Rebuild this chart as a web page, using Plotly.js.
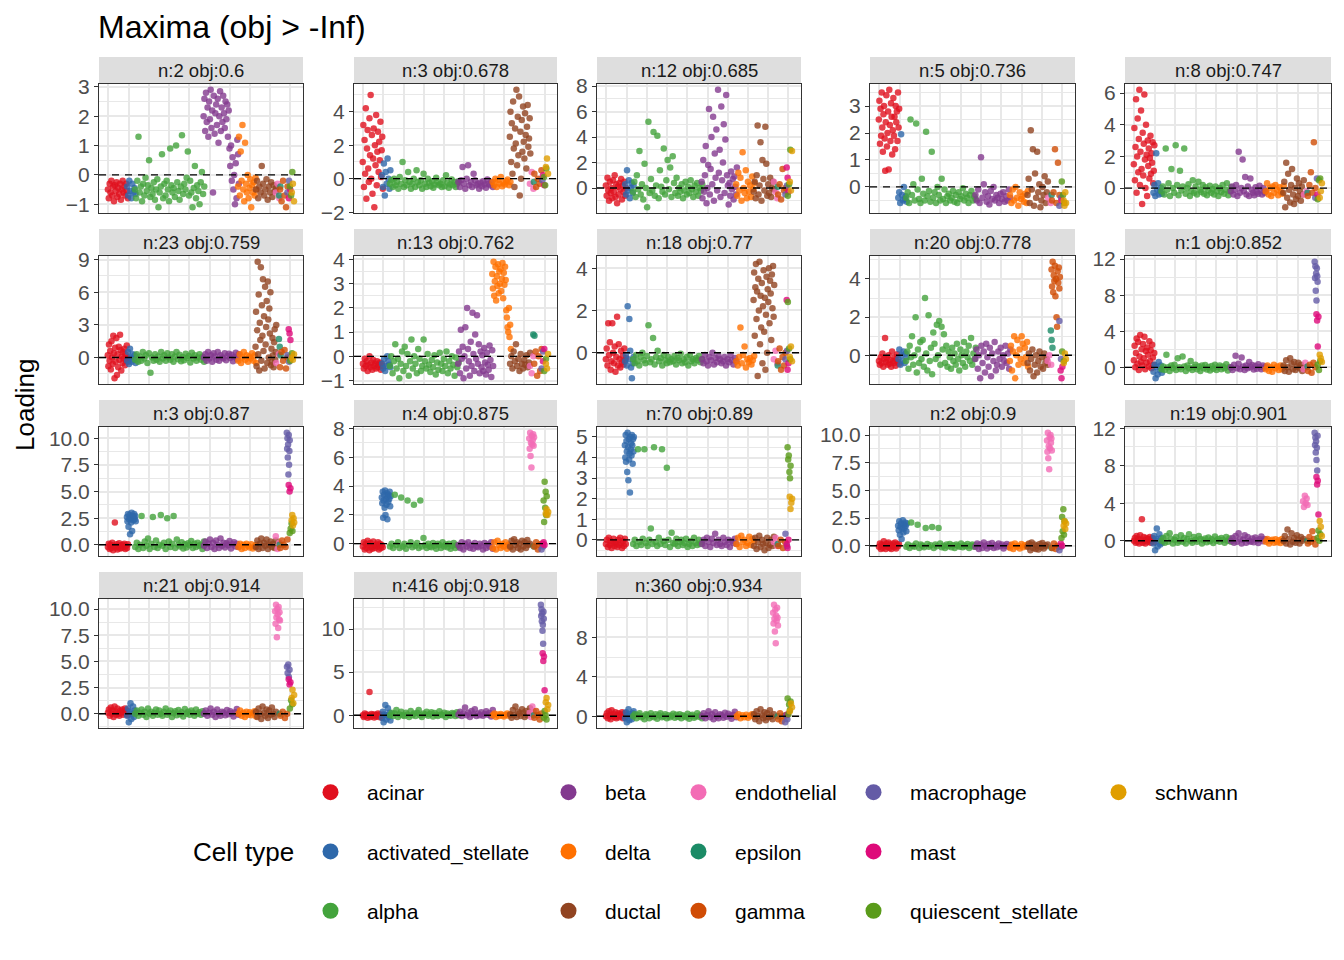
<!DOCTYPE html>
<html lang="en">
<head>
<meta charset="UTF-8">
<title>Maxima</title>
<script src="https://cdn.plot.ly/plotly-3.0.1.min.js"></script>
<style>body { margin: 0; }</style>
</head>
<body>
<div id="plot" style="width:1344px;height:960px"></div>
<script>

const cellTypes = ["acinar", "activated_stellate", "alpha", "beta", "delta", "ductal", "endothelial",
    "epsilon", "gamma", "macrophage", "mast", "quiescent_stellate", "schwann"]
const cellColors = ["#e0101e", "#2e68aa", "#43a33c", "#83398f", "#ff7000", "#914421", "#f36cb5",
    "#1b8b66", "#d04c05", "#645ba6", "#de0a7a", "#5a9b1a", "#e09e00"]
// number of cells of each type, in x order
const cellCounts = [95, 38, 340, 170, 87, 97, 18, 4, 36, 8, 5, 10, 8]

const facetLabels = ["n:2 obj:0.6", "n:3 obj:0.678", "n:12 obj:0.685", "n:5 obj:0.736", "n:8 obj:0.747",
    "n:23 obj:0.759", "n:13 obj:0.762", "n:18 obj:0.77", "n:20 obj:0.778", "n:1 obj:0.852",
    "n:3 obj:0.87", "n:4 obj:0.875", "n:70 obj:0.89", "n:2 obj:0.9", "n:19 obj:0.901",
    "n:21 obj:0.914", "n:416 obj:0.918", "n:360 obj:0.934"]

// loadings per facet, one list per cell type (same order as cellTypes)
const panel01 = [
    [-0.5,-0.8,-0.3,-0.6,-0.2,-0.7,-0.4,-0.9,-0.35,-0.55,-0.25,-0.75,-0.45,-0.65,-0.3,-0.85,-0.5,-0.2,-0.6,-0.4,-0.7,-0.3,-0.55,-0.8],
    [-0.4,-0.7,-0.2,-0.55,-0.8,-0.3,-0.6,-0.45,-0.65],
    [-0.5,-0.8,-0.2,1.3,-0.6,-0.4,-0.9,-0.3,-0.7,-0.1,-0.55,-0.35,0.5,-0.75,-0.45,-0.65,-0.25,-0.85,-0.5,-0.15,-1.1,-0.6,-0.4,0.7,-0.8,-0.3,-0.7,-0.2,-0.5,-0.9,0.9,-0.35,-0.6,-0.45,-0.75,1.0,-0.25,-0.55,-0.85,-0.4,1.35,-0.65,-0.3,-0.5,-0.1,0.8,-0.7,-0.2,-0.6,-1.1,-0.45,0.3,-0.8,-0.35,-0.55,-1.0,-0.25,0.1,-0.65,-0.4],
    [2.0,2.6,1.5,2.8,1.8,2.3,1.3,2.5,1.9,2.9,1.6,2.2,-0.6,2.7,1.4,2.1,2.4,1.7,2.6,1.1,2.0,2.85,1.5,2.3,1.8,2.7,2.1,1.6,2.5,1.9,2.4,1.3,2.2,0.9,0.3,1.0,-0.2,0.6,-0.5,0.0,-1.0,0.4,-0.8,1.2,0.7,-0.3],
    [-0.4,1.3,-0.7,0.8,-0.2,1.7,-0.5,-0.9,1.1,-0.3,-0.6,0.0,-0.8,-0.45,-0.15,-1.1,-0.35,-0.6,-0.25,-0.7,-0.1,-0.5],
    [-0.5,-0.2,-0.8,-0.4,-0.6,0.3,-0.3,-0.7,-0.5,-0.15,-0.85,-0.4,-0.6,-0.25,-0.75,-0.35,-0.55,-0.45],
    [-0.6,-0.3,-0.8], [-0.7,-0.4], [-0.5,-0.9,-0.2,-0.7,-1.1,-0.4], [-0.6,-0.2], [-0.8,-0.5],
    [-0.4,-0.7,0.1], [-0.6,-0.3,-0.9]
]
const panel02 = [
    [1.0,3.2,-0.5,2.3,0.3,4.2,-1.2,1.8,2.9,0.6,-0.2,3.6,1.4,5.0,0.0,2.6,-0.9,1.2,3.0,-1.7,2.0,0.8,3.8,-0.4,1.6,2.8,0.4,2.2,1.1,3.4,0.1,1.7,2.5,-0.6],
    [0.2,-0.5,0.9,-1.0,0.4,-0.3,1.2,0.0,-0.6,0.5],
    [-0.3,-0.1,-0.5,0.0,-0.4,-0.2,-0.6,0.1,-0.3,1.0,-0.5,-0.1,-0.4,0.4,-0.2,-0.6,-0.3,0.0,-0.5,0.5,-0.2,-0.4,-0.1,-0.6,0.3,-0.3,-0.5,0.0,-0.25,-0.45,-0.15,-0.55,-0.35,0.05,-0.2,-0.4,-0.3,-0.5,-0.1,-0.45,0.2,-0.25,-0.55,-0.35,-0.05,-0.4,-0.2,-0.5,-0.3,-0.15],
    [-0.2,-0.5,-0.1,0.7,-0.3,-0.6,0.0,0.8,-0.4,-0.2,-0.5,0.3,-0.1,-0.4,-0.3,-0.6,-0.25,-0.45,-0.15,-0.35,-0.55,-0.05,-0.3,-0.4,-0.2,-0.5],
    [-0.2,-0.4,0.0,-0.5,-0.1,-0.3,0.1,-0.45,-0.25,-0.35,-0.15,-0.05,-0.4,-0.2],
    [2.5,4.0,1.0,3.3,0.3,4.6,1.8,-0.5,3.0,2.1,5.3,0.8,3.7,1.4,4.9,-1.0,2.8,0.0,3.5,1.6,4.3,2.2,1.2,3.9,2.6,0.6,3.1,4.4,1.9,2.4,3.6,1.5],
    [-0.3,0.4,-0.6], [-0.2], [0.3,-0.5,0.0,-0.3,0.5], [-0.1], [0.2,-0.4], [0.1,-0.4,0.6], [0.7,1.2,0.3]
]
const panel03 = [
    [0.2,-0.6,0.8,-0.2,-1.0,0.5,-0.4,0.0,-0.8,0.6,-0.3,1.0,-0.7,0.3,-1.2,0.1,-0.5,0.4,-0.1,0.7,-0.9,0.2,-0.3,0.5,-0.6,0.0],
    [0.3,-0.5,1.4,-0.2,0.6,-0.8,0.0,0.4,-0.4,0.2],
    [-0.3,0.5,-0.7,1.0,-0.1,2.9,-0.5,0.3,-0.9,1.9,0.0,-1.5,5.2,-0.4,0.7,-0.2,4.4,-0.6,0.2,4.1,-0.8,1.4,0.1,-0.3,3.1,-0.5,0.6,2.2,-0.1,1.6,-0.7,2.5,0.4,-0.4,0.8,-0.6,0.0,-0.3,0.3,-0.8,-0.2,0.5,-0.5,0.1,-0.4,0.6,-0.1,-0.7,0.2,-0.3,0.4,-0.6,0.0,-0.2,0.3],
    [0.5,-0.8,2.2,-0.3,1.0,3.3,-1.2,0.0,1.8,6.2,-0.5,1.5,4.0,0.3,5.6,-1.0,2.7,0.8,4.6,-0.2,7.7,1.2,3.0,-0.7,6.4,0.6,2.0,5.0,-0.4,3.8,7.3,1.0,0.2,-1.3,0.4,-0.6,1.3,-0.1,0.7,-0.9,0.9,0.1,-0.5,1.6],
    [0.3,-0.6,1.2,-0.2,0.8,-1.0,2.8,0.0,-0.4,1.4,-0.8,0.5,-0.3,0.2,-0.7,0.9,-0.1,0.4],
    [-0.3,0.5,-0.8,1.0,4.9,-0.5,0.2,3.6,-1.0,2.2,0.7,-0.2,4.8,1.9,-0.6,0.3,-0.4,0.8,-0.7,0.0,0.5,-0.1],
    [0.5,-0.3,-0.8], [0.1], [-0.5,0.3,-0.9,1.5,-0.2,0.0], [-0.5,0.2], [1.6,0.8,-0.3], [-0.6,0.3,3.0], [0.5,-0.2,2.9]
]
const panel04 = [
    [2.5,3.2,1.6,2.9,1.9,3.5,2.2,1.3,2.7,3.0,1.8,0.6,2.4,3.4,1.5,2.0,2.8,0.65,3.6,2.3,1.7,3.1,2.6,1.2,2.1,3.3,1.9,2.6,1.4,3.0,2.4,2.8,1.7,3.5,2.2,2.9],
    [-0.4,-0.2,-0.6,1.95,-0.3,-0.5,0.0,-0.45,-0.35,-0.55],
    [-0.4,-0.2,-0.6,2.5,-0.3,0.1,-0.5,2.35,-0.1,-0.45,-0.6,0.3,-0.25,-0.5,2.05,-0.35,-0.15,-0.55,1.3,-0.4,-0.2,-0.6,0.0,-0.3,-0.5,0.3,-0.45,-0.1,-0.6,-0.35,-0.25,-0.5,-0.4,-0.15,-0.55,-0.3,-0.6,-0.2,-0.45,-0.35,-0.05,-0.5,-0.25,-0.4,-0.6,-0.3,-0.15,-0.5,-0.35,-0.45],
    [-0.3,-0.5,-0.1,-0.6,1.1,-0.4,0.1,-0.2,-0.55,-0.35,-0.65,-0.15,-0.45,0.0,-0.5,-0.3,-0.4,-0.6,-0.25,-0.45,-0.2,-0.55,-0.35,-0.5,-0.1,-0.4],
    [-0.3,-0.6,-0.1,-0.5,0.0,-0.4,-0.7,-0.2,-0.45,-0.35,-0.55,-0.25,-0.6,-0.15],
    [-0.3,0.3,-0.6,2.1,-0.1,1.4,-0.7,0.5,-0.4,1.3,-0.2,0.1,-0.75,-0.5,0.0,-0.3,0.4,-0.6,-0.2,0.2],
    [-0.4,-0.6], [-0.3], [-0.5,-0.2,1.4,-0.6,0.9,-0.3], [-0.7,-0.4], [-0.5], [0.2,-0.3,-0.6], [-0.5,-0.7,-0.2,-0.6]
]
const panel05 = [
    [1.5,3.8,0.5,2.6,5.6,-0.3,2.0,4.4,1.0,3.1,6.2,0.2,2.3,4.9,1.2,-1.0,3.5,0.8,2.8,5.9,1.8,0.0,4.0,2.1,-0.5,3.0,1.4,2.5,0.6,1.9,3.3,0.9,2.2,1.6,2.9,0.3,1.1,2.7],
    [-0.3,0.2,-0.5,2.2,-0.1,0.3,-0.4,-0.2,0.0,-0.35],
    [-0.2,0.1,-0.4,2.5,-0.1,0.3,-0.5,1.2,0.0,-0.3,2.7,0.2,-0.45,1.1,-0.15,0.1,2.5,-0.35,0.0,0.25,-0.5,-0.2,0.5,-0.3,0.1,-0.4,0.4,-0.1,-0.25,0.2,-0.35,0.05,-0.45,-0.15,0.15,-0.3,-0.05,-0.4,0.1,-0.2,-0.5,0.0,-0.25,0.2,-0.35,-0.1,0.3,-0.45,-0.2,0.05],
    [-0.2,0.1,-0.4,-0.1,0.2,-0.5,2.3,-0.3,0.0,1.8,-0.2,0.7,-0.4,0.1,-0.5,0.6,-0.1,-0.3,-0.45,0.05,-0.25,-0.35,0.15,-0.15,-0.4,0.0,-0.3,-0.2],
    [-0.2,0.3,-0.4,0.0,-0.5,0.1,-0.3,0.2,-0.1,-0.45,0.05,-0.25,-0.35,0.15],
    [-0.3,0.4,-1.2,1.6,-0.6,0.9,-0.1,-0.9,0.2,1.2,-0.4,-1.0,0.0,-0.7,0.6,-0.5,0.3,-0.2,-0.8,0.1,-0.4,0.5],
    [-0.4,-0.2], [-0.3], [-0.5,0.2,1.0,-0.3,2.9,0.0], [-0.6,0.6], [-0.4], [-0.7,0.5,0.6], [-0.6,-0.2,0.3]
]
const panel06 = [
    [0.2,-0.8,1.2,-0.3,0.6,-1.1,1.5,0.0,-0.6,2.0,0.4,-1.9,0.9,-0.4,1.8,-1.6,0.3,-0.9,1.0,-0.2,2.1,0.7,-1.2,0.1,-0.5,0.5,-0.1,0.8,-0.7,0.3,-0.3,1.1,0.0,-0.4],
    [-0.3,0.5,-0.6,0.8,0.0,-0.4,0.3,-0.2,0.2,-0.5],
    [-0.2,0.3,-0.4,0.1,-0.3,0.5,-0.1,0.2,-0.5,0.4,-1.4,0.0,-0.3,0.3,-0.2,0.1,-0.4,0.5,-0.1,0.2,-0.3,0.4,0.0,-0.2,0.3,-0.4,0.1,0.5,-0.15,0.25,-0.35,0.05,-0.25,0.35,-0.05,0.15,-0.45,0.45,-0.1,0.2,-0.3,0.0,0.3,-0.2,0.1,-0.4],
    [0.0,0.3,-0.3,0.5,-0.1,0.2,-0.4,0.4,0.1,-0.2,0.5,-0.3,0.2,0.0,-0.1,0.4,-0.25,0.15,0.35,-0.05,0.25,-0.35,0.05,0.45,-0.15,0.3],
    [-0.3,0.3,-0.5,0.0,0.5,-0.2,0.2,-0.4,0.1,-0.1,0.4,-0.3,0.2,-0.5],
    [1.0,4.2,-0.8,2.5,8.8,0.3,5.8,-1.2,3.2,1.6,8.3,-0.3,4.8,2.0,7.2,0.6,3.8,-1.0,6.5,1.2,2.8,5.2,-0.5,7.0,3.5,0.0,4.5,2.2,6.0,-0.7,0.8,-0.4,1.8,0.2,-0.9,1.4,2.6,-0.2,0.5,3.0],
    [-0.5,0.3], [1.7,1.0,0.2], [-0.9,0.5,-0.3,0.7,-1.0,0.0], [0.2,-0.4], [2.6,2.2,1.6], [-0.3,0.4], [0.0,-0.2,0.3]
]
const panel07 = [
    [-0.3,-0.5,-0.1,-0.4,-0.2,-0.6,-0.35,0.0,-0.45,-0.25,-0.55,-0.15,-0.4,-0.3,-0.5,-0.2,-0.45,-0.35,-0.25,-0.55,-0.3,-0.4],
    [-0.3,-0.5,-0.1,-0.6,-0.4,0.0,-0.2,-0.35,-0.45],
    [-0.4,0.0,-0.7,-0.2,0.5,-0.5,-0.1,-0.9,-0.3,0.2,-0.6,0.4,-0.4,0.1,-0.8,-0.2,0.7,-0.5,0.0,-0.3,-0.7,0.3,-0.1,-0.6,-0.4,0.7,-0.2,-0.5,0.1,-0.35,-0.65,-0.15,-0.45,0.05,-0.75,-0.25,-0.55,0.15,-0.3,-0.6,-0.1,-0.4,0.2,-0.7,-0.2,-0.5,0.0,-0.35,-0.8,-0.05,-0.45,-0.25],
    [-0.3,0.2,-0.7,1.1,-0.1,0.4,-0.9,0.0,1.2,-0.5,2.0,0.3,-0.2,-0.8,0.6,-0.4,1.8,0.1,-0.6,0.9,-0.1,1.7,-0.3,0.5,-0.7,0.2,-0.45,0.05,-0.6,0.35,-0.25,-0.75,0.15,-0.35,-0.55,0.45,-0.15,-0.85,0.25,-0.4],
    [3.4,2.8,3.9,2.5,3.1,3.7,2.3,3.3,2.9,3.8,2.6,3.5,3.0,3.6,2.7,3.2,3.85,2.4,3.45,2.95,3.7,3.15,1.9,1.6,1.2,1.0,2.0,0.8,1.3,0.3],
    [-0.3,0.0,-0.5,0.2,-0.2,0.5,-0.4,-0.1,-0.6,0.1,-0.3,-0.5,-0.15,-0.35,0.05,-0.45,-0.25,0.15],
    [-0.4,-0.7,0.0], [0.9,0.85], [-0.3,0.2,-0.8,0.0,-0.6,0.3], [-0.5,0.2], [-0.2,0.3], [-0.6,-0.1], [-0.3,-0.5,0.1]
]
const panel08 = [
    [-0.3,0.2,-0.6,1.4,-0.1,0.5,-0.8,-0.4,1.4,0.0,-0.5,0.3,-0.9,-0.2,1.7,-0.6,0.4,-0.3,-0.7,0.1,-0.45,-0.15,-0.55,0.2,-0.35,-0.25],
    [-0.4,-0.1,-0.6,2.2,-0.3,1.6,0.1,-0.7,-1.2,-0.5,-0.2],
    [-0.3,-0.5,-0.1,-0.4,-0.6,-0.2,0.0,-0.35,-0.5,-0.15,1.3,-0.45,-0.3,0.7,-0.55,-0.2,0.1,-0.4,-0.25,-0.6,-0.1,-0.35,-0.5,-0.2,-0.45,-0.3,-0.4,-0.15,-0.55,-0.25,-0.35,-0.05,-0.5,-0.3,-0.45,-0.2,-0.6,-0.1,-0.4,-0.3,-0.5,-0.25,-0.35,-0.15,-0.45,-0.3],
    [-0.3,-0.5,-0.1,-0.4,-0.6,-0.2,-0.35,0.0,-0.55,-0.25,-0.45,-0.15,-0.3,-0.5,-0.4,-0.2,-0.6,-0.3,-0.45,-0.1,-0.35,-0.55,-0.25,-0.4],
    [-0.4,-0.6,-0.2,1.2,-0.5,-0.1,0.3,-0.7,-0.3,-0.45,-0.25,-0.55,-0.35,-0.15],
    [2.5,3.8,0.8,3.1,4.2,1.6,2.9,-1.1,3.5,2.0,4.3,0.4,2.7,1.2,3.3,-0.5,2.2,3.9,1.0,2.6,-0.8,1.8,3.6,0.0,3.0,2.4,4.0,1.4,3.4,2.8,0.6,3.7,2.1,4.1,1.7,3.2],
    [-0.3,0.1,-0.5], [-0.6], [-0.4,0.2,-0.8,-0.2,-0.6,0.0], [-0.3,0.1], [2.5,-0.8,-0.5], [2.4,0.2,-0.3], [-0.2,0.3,-0.4]
]
const panel09 = [
    [-0.3,-0.5,-0.1,-0.4,0.1,-0.6,-0.2,0.9,-0.35,-0.15,-0.5,0.0,-0.45,-0.25,-0.6,0.2,-0.3,-0.4,-0.1,-0.55,-0.2,0.05,-0.35,-0.45],
    [-0.2,0.3,-0.5,0.0,-0.3,0.2,-0.4,0.1,-0.1],
    [-0.3,0.2,-0.7,0.5,-0.1,1.0,-0.5,0.0,2.0,-0.9,0.3,-0.4,0.7,-0.2,0.8,-0.6,3.0,0.1,-0.8,2.1,-0.3,0.4,-1.0,1.2,0.6,-0.2,1.6,0.0,1.8,-0.5,1.5,0.3,1.1,-0.4,0.5,-0.6,0.2,-0.1,-0.7,0.4,-0.3,0.1,-0.5,0.6,-0.2,-0.8,0.3,0.0,-0.4,0.7,-0.6,0.2,-0.1,0.5,-0.3,0.9,-0.5,0.1,-0.2,0.4],
    [-0.2,0.3,-0.7,0.0,-1.2,0.5,-0.4,0.2,-0.9,0.6,-0.1,-0.6,0.4,-1.1,0.1,-0.3,0.7,-0.8,-0.5,0.2,-0.2,0.4,-0.6,0.0,-0.3,0.5,-0.4,0.1,-0.7,0.3],
    [-0.3,0.5,-0.8,0.2,1.0,-1.2,0.0,0.8,-0.5,0.3,-0.2,1.0,0.6,-0.4,0.4,-0.1,0.7,-0.6],
    [-0.4,0.1,-0.8,-0.2,0.3,-1.1,-0.5,0.0,-0.9,-0.3,0.2,-0.6,-0.1,-0.7,0.1,-0.4,-0.2,-0.5],
    [-0.3,0.0,-0.5], [1.3,0.8,0.4], [4.5,3.6,4.9,3.3,4.2,3.9,4.7,3.1,4.0,2.0,1.5,4.4,3.8,4.6,3.5,4.1], [1.8,-0.2], [-0.8,-1.2,-0.6],
    [0.2,-0.3], [-0.4,0.1,-0.2]
]
const panel10 = [
    [0.8,2.4,0.0,1.6,3.2,0.4,2.8,-0.3,1.2,3.6,0.6,2.0,0.2,2.6,1.0,3.4,-0.2,1.8,0.5,2.2,1.4,0.1,2.9,0.7,1.9,-0.1,2.5,1.1,0.3,1.6],
    [-0.5,0.3,-1.2,0.0,-0.8,0.6,-0.3,0.2,-0.6],
    [-0.2,0.1,-0.3,1.4,0.0,-0.4,0.2,-0.1,0.3,-0.3,1.0,0.0,-0.2,1.2,0.1,-0.4,0.2,-0.1,0.7,-0.3,0.0,0.3,-0.2,0.1,-0.4,0.2,-0.1,0.25,-0.25,0.05,-0.35,0.15,-0.15,0.3,-0.3,0.0,0.2,-0.2,0.1,-0.1,0.35,-0.35,0.05,-0.05],
    [0.0,-0.3,0.3,1.3,-0.1,0.4,-0.2,1.1,0.1,-0.3,0.2,-0.1,0.6,0.0,0.25,-0.25,0.15,-0.15,0.35,0.05,-0.2,0.2,-0.05,0.1],
    [-0.2,0.2,-0.4,0.0,-0.5,0.3,-0.1,0.1,-0.3,0.2,-0.2,0.0],
    [0.2,-0.4,0.8,0.0,-0.5,1.0,0.4,-0.2,0.6,-0.3,0.1,0.5,-0.1,0.3,-0.4,0.0],
    [-0.2,0.5,0.0], [0.1], [-0.4,0.3,-0.6,0.5,0.0], [11.7,9.9,11.2,8.5,10.4,7.4,11.0,10.1,9.5], [5.9,5.2,2.3,5.6],
    [0.3,-0.3,0.7], [1.4,1.0,0.6]
]
const panel11 = [
    [-0.2,0.1,-0.4,0.0,-0.3,0.2,-0.5,-0.1,2.1,-0.25,0.05,-0.45,-0.15,0.15,-0.35,-0.05,-0.3,0.0,-0.2,0.1,-0.4,-0.1,-0.3,0.05],
    [2.6,2.2,2.9,1.7,2.4,2.8,1.0,2.5,2.1,3.0,1.3,2.7,2.3,2.6,2.9,2.4,2.7,2.2],
    [-0.2,0.2,-0.4,0.0,2.7,-0.3,0.3,-0.1,0.6,-0.4,0.1,2.6,-0.2,0.4,-0.3,0.0,2.8,-0.1,0.2,-0.4,2.5,0.3,-0.2,0.1,2.7,-0.3,0.5,0.0,-0.15,0.25,-0.35,0.05,-0.25,0.15,-0.05,0.35,-0.3,0.1,-0.2,0.2,-0.1,0.0,-0.4,0.3],
    [-0.1,0.3,-0.3,0.1,0.5,-0.2,0.2,-0.4,0.4,0.0,-0.3,0.6,-0.1,0.2,-0.25,0.15,-0.05,0.35,-0.35,0.05,0.25,-0.15,0.1,-0.2],
    [-0.2,0.1,-0.4,0.0,-0.3,0.1,-0.1,-0.25,0.05,-0.35,-0.15,0.0],
    [-0.2,0.4,-0.4,0.1,0.6,-0.3,0.2,-0.1,0.5,-0.4,0.0,0.3,-0.2,0.1,-0.3,0.4],
    [0.8,-0.4,0.2], [0.0], [-0.3,0.4,0.0,-0.2,0.5], [10.5,9.0,10.0,8.2,9.4,6.6,10.3,7.5,8.8,9.8], [5.6,5.0,5.3],
    [1.1,1.5,2.0,1.3], [2.3,2.8,1.8,2.5,2.1]
]
const panel12 = [
    [-0.2,0.1,-0.4,0.0,-0.3,0.2,-0.1,-0.45,0.05,-0.25,-0.35,0.15,-0.15,-0.3,-0.05,-0.2,0.1,-0.4,0.0,-0.3,-0.1,-0.25],
    [3.2,2.8,3.6,1.8,3.0,3.4,2.5,3.7,2.0,3.1,2.7,3.5,1.7,3.3,2.9,3.4,3.1,3.6,2.6,3.3],
    [-0.2,0.0,-0.3,3.4,-0.1,0.1,-0.3,3.2,-0.2,0.0,-0.35,3.0,-0.1,0.1,-0.25,2.7,-0.15,0.05,-0.3,3.0,-0.2,0.4,-0.1,-0.3,0.0,-0.2,-0.25,0.05,-0.15,-0.35,0.0,-0.1,-0.3,0.1,-0.2,-0.05,-0.25,0.0,-0.35,-0.15,0.05,-0.3,-0.1,-0.2],
    [-0.1,-0.3,0.1,-0.4,0.0,-0.2,0.1,-0.3,-0.1,-0.35,0.05,-0.2,-0.25,0.0,-0.15,-0.4,0.05,-0.3,-0.05,-0.2,0.1,-0.35],
    [-0.3,0.1,-0.4,0.2,-0.1,-0.3,0.0,-0.2,0.1,-0.35,-0.05,-0.25],
    [-0.2,0.2,-0.4,0.3,-0.1,0.1,-0.3,0.0,-0.4,0.2,-0.2,0.1,-0.3,0.25,-0.1,0.0],
    [7.3,6.6,7.7,6.1,7.0,5.3,7.5,6.9,7.2,7.6,6.8,7.4], [-0.2], [-0.2,0.1,-0.4,-0.1,0.0], [-0.4,-0.2], [0.0,0.1,-0.1],
    [3.0,1.5,4.3,2.5,3.6,2.0,3.3], [2.1,2.4,2.0,2.2]
]
const panel13 = [
    [-0.2,0.0,-0.35,0.1,-0.25,-0.05,-0.4,-0.15,0.05,-0.3,-0.1,-0.2,-0.35,0.0,-0.25,0.1,-0.15,-0.4,-0.05,-0.3,0.05,-0.2],
    [4.6,4.0,5.1,3.8,4.8,4.3,3.3,5.2,4.5,2.9,4.9,3.9,4.2,2.3,5.0,4.4,4.7,4.1,5.1,4.6,3.7,4.9,4.3,5.0],
    [-0.2,0.0,-0.3,4.4,-0.1,-0.25,0.05,4.4,-0.15,-0.3,0.0,0.55,-0.2,4.5,-0.1,-0.3,0.1,-0.2,4.4,-0.05,-0.25,3.5,0.0,-0.35,0.35,-0.15,-0.2,0.05,-0.3,-0.1,0.0,-0.25,-0.15,0.05,-0.35,-0.2,-0.05,-0.3,0.1,-0.15,-0.25,0.0,-0.2,-0.1],
    [-0.2,0.0,-0.3,0.1,-0.1,-0.35,0.05,-0.15,0.3,-0.25,0.0,-0.2,-0.3,0.1,-0.1,-0.25,0.0,-0.35,-0.05,-0.15,0.05,-0.2],
    [-0.2,0.1,-0.35,0.2,-0.1,0.0,-0.3,-0.15,0.15,-0.25,0.05,-0.05],
    [-0.3,0.1,-0.45,-0.1,0.2,-0.35,0.0,-0.2,-0.5,-0.15,0.1,-0.4,-0.25,0.0,-0.3,0.15],
    [-0.1,0.1,-0.3], [-0.2], [-0.3,0.0,-0.4,-0.1], [0.3,-0.3], [-0.2,-0.4,0.0],
    [4.5,3.9,4.1,3.3,3.0,3.6], [2.1,1.5,1.8,2.0]
]
const panel14 = [
    [-0.1,0.2,-0.3,0.1,-0.2,0.4,0.0,-0.3,0.2,-0.1,0.3,-0.2,0.1,-0.3,0.0,0.2,-0.15,0.3,-0.25,0.1,-0.05,0.15],
    [1.8,1.4,2.2,1.0,1.7,2.0,0.6,1.5,2.3,1.2,1.9,1.6,2.1,1.8,1.3,2.0],
    [-0.1,0.1,-0.2,2.1,0.0,-0.1,0.2,1.9,-0.2,0.1,0.0,-0.15,1.6,0.15,-0.1,0.05,1.7,-0.2,0.1,-0.05,1.6,0.2,-0.15,0.0,-0.2,0.1,-0.05,0.15,-0.15,0.05,-0.2,0.1,0.0,-0.1,0.2,-0.15,0.05,-0.05,0.15,-0.2,0.0,0.1,-0.1,0.05],
    [-0.1,0.2,-0.3,0.1,-0.2,0.3,0.0,-0.25,0.15,-0.1,0.25,-0.2,0.05,-0.15,0.2,-0.05,0.1,-0.25,0.0,0.15,-0.1,0.05],
    [-0.2,0.1,-0.3,0.2,-0.1,0.0,-0.25,0.15,-0.15,0.05,-0.05,0.1],
    [-0.1,0.2,-0.4,0.3,-0.2,0.1,-0.3,0.0,-0.35,0.15,-0.15,0.25,-0.25,0.05,-0.05,0.1],
    [9.5,8.5,10.2,7.9,9.0,6.9,9.8,8.8,10.0,9.3,9.7,8.6], [-0.2], [-0.2,0.2,-0.3,0.0,-0.1], [-0.4,-0.1], [0.2,0.0],
    [0.7,2.6,1.3,3.3,1.0,2.2], [1.8,2.2,1.5,2.0]
]
const panel15 = [
    [0.0,0.3,-0.2,0.5,-0.1,0.2,-0.3,0.6,0.1,2.3,-0.2,0.4,0.0,-0.3,0.3,0.1,-0.1,0.2,0.4,-0.2,0.0,0.3,0.1,-0.15],
    [-0.3,0.5,-1.0,0.2,1.3,-0.6,0.0,0.7,-0.4,0.3,-0.2],
    [0.0,0.3,-0.2,0.5,-0.1,0.8,0.2,-0.3,0.1,0.4,-0.2,0.0,0.6,-0.1,0.3,-0.3,0.2,0.7,0.0,-0.2,0.4,0.1,-0.1,0.5,0.2,-0.3,0.05,0.25,-0.15,0.35,-0.05,0.15,-0.25,0.45,0.0,0.2,-0.1,0.3,0.1,-0.2,0.4,0.0,0.25,-0.1],
    [0.0,0.3,-0.2,0.5,-0.1,0.8,0.2,-0.3,0.1,0.6,-0.2,0.4,0.0,-0.1,0.25,-0.15,0.35,0.05,-0.25,0.15,0.45,-0.05,0.2,0.1],
    [-0.1,0.2,-0.3,0.0,0.1,-0.2,0.15,-0.15,0.05,-0.25,0.2,-0.05],
    [0.0,0.5,-0.3,1.2,0.2,-0.4,0.8,-0.1,0.3,-0.2,0.6,0.1,-0.3,0.4,0.0,0.2],
    [4.2,3.6,4.8,4.0,4.5,3.8], [0.0], [-0.3,0.4,-0.1,1.0,0.2,-0.4], [11.5,10.2,11.0,9.4,10.6,8.6,9.9,7.5,11.2],
    [6.8,6.0,6.4,2.8], [0.3,1.1,0.0,0.7], [2.1,1.5,0.5]
]
const panel16 = [
    [0.1,0.4,-0.2,0.6,0.0,0.3,-0.3,0.7,0.2,-0.1,0.5,0.0,-0.2,0.3,0.1,0.4,-0.1,0.2,0.5,0.0,0.3,-0.15],
    [-0.2,0.5,-0.8,0.2,1.0,-0.5,0.0,0.7,-0.3,0.3,0.1],
    [0.0,0.3,-0.2,0.1,0.4,-0.1,0.2,-0.3,0.5,0.0,0.2,-0.2,0.1,0.4,-0.1,0.3,0.0,-0.2,0.2,0.5,-0.1,0.1,0.3,-0.3,0.05,0.25,-0.15,0.35,-0.05,0.15,-0.25,0.45,0.0,0.2,-0.1,0.3,0.1,-0.2,0.4,0.0,0.15,-0.1,0.25,0.05],
    [0.0,0.3,-0.2,0.1,0.5,-0.1,0.2,-0.3,0.4,0.0,-0.2,0.2,0.1,-0.15,0.35,-0.05,0.25,0.05,-0.25,0.15,0.45,-0.1],
    [0.0,0.3,-0.2,0.1,-0.3,0.2,-0.1,0.15,-0.15,0.05,0.25,-0.25],
    [0.2,-0.3,0.5,0.0,-0.5,0.7,0.1,-0.2,0.4,-0.4,0.3,-0.1,0.6,0.0,-0.3,0.2],
    [9.8,8.6,10.4,9.2,7.3,10.0,9.5,8.2,10.2,9.0,9.7,8.9], [0.0], [-0.2,0.2,-0.4,0.0], [4.5,3.9,4.7,3.5,4.2], [3.3,2.8,3.0],
    [0.5,1.3,0.9], [1.5,2.3,1.0,1.8]
]
const panel17 = [
    [0.0,-0.2,0.2,-0.1,0.1,-0.3,0.0,2.7,-0.2,0.15,-0.1,0.05,-0.25,0.1,-0.15,0.0,0.2,-0.2,0.1,-0.05,-0.3,0.05],
    [-0.3,0.4,-0.8,0.1,1.2,-0.5,0.0,0.8,-0.2,0.3,-0.6],
    [0.0,0.3,-0.1,0.2,0.6,-0.2,0.1,0.4,0.0,-0.1,0.3,0.1,-0.2,0.5,0.0,0.2,-0.1,0.3,0.6,0.0,-0.2,0.2,0.1,0.4,-0.05,0.15,0.35,-0.15,0.25,0.05,-0.1,0.45,0.1,0.0,0.3,-0.2,0.2,0.05,-0.05,0.25,0.15,-0.1,0.35,0.0],
    [0.1,0.4,-0.1,0.2,0.9,0.0,0.3,-0.2,0.5,0.1,0.7,-0.1,0.2,0.0,0.35,-0.05,0.15,0.45,0.05,0.25,-0.15,0.6],
    [0.0,0.2,-0.2,0.1,-0.1,0.15,0.0,-0.15,0.05,0.2,-0.05,0.1],
    [0.1,-0.3,0.6,0.0,1.0,-0.2,0.4,0.2,-0.1,0.7,0.3,-0.2,0.5,0.0,0.2,0.8],
    [0.3,-0.2,1.0,0.5], [0.0], [-0.3,0.5,0.0,-0.5,0.2], [12.8,11.5,12.3,10.9,11.8,9.8,10.5,8.3,12.0,11.2],
    [7.2,6.3,6.8,2.9], [-0.3,0.5,0.0,-0.5], [1.5,2.0,0.7,1.2]
]
const panel18 = [
    [0.0,0.3,-0.2,0.5,0.1,-0.3,0.6,0.0,0.2,-0.1,0.4,-0.2,0.1,0.3,-0.1,0.2,0.0,0.4,-0.2,0.1,0.3,-0.05],
    [-0.2,0.4,-0.6,0.1,0.7,-0.4,0.2,0.0,-0.3,0.3,0.5],
    [0.0,0.2,-0.2,0.1,0.3,-0.1,0.0,-0.3,0.2,0.1,-0.2,0.3,0.0,-0.1,0.2,-0.25,0.1,0.3,-0.1,0.0,0.2,-0.2,0.1,-0.1,0.05,0.25,-0.15,0.15,-0.05,0.2,-0.2,0.1,0.0,-0.1,0.25,-0.25,0.05,0.15,-0.15,0.0,0.3,-0.05,0.1,-0.2],
    [0.0,0.3,-0.2,0.1,0.5,-0.1,0.2,-0.3,0.4,0.0,-0.2,0.2,0.1,-0.15,0.35,-0.05,0.25,0.05,-0.25,0.15,0.45,-0.1],
    [0.0,0.2,-0.2,0.1,-0.1,0.15,-0.15,0.05,0.2,-0.05],
    [0.2,-0.3,0.5,0.0,-0.5,0.7,0.1,-0.2,0.4,-0.4,0.3,-0.1,0.6,0.0,-0.3,0.2],
    [10.5,9.4,11.3,9.9,8.6,10.8,7.4,10.2,9.7,11.0,10.0,9.2], [0.0], [-0.3,0.3,-0.5,0.0,0.1], [-0.6,0.1,-0.3], [0.2],
    [1.8,0.2,1.2,0.6,1.5], [0.5,1.3,0.9]
]

const panels = [panel01, panel02, panel03, panel04, panel05, panel06, panel07, panel08, panel09,
    panel10, panel11, panel12, panel13, panel14, panel15, panel16, panel17, panel18]

// y tick step of each facet
const yDticks = [1, 2, 2, 1, 2, 3, 1, 2, 2, 4, 2.5, 2, 1, 2.5, 4, 2.5, 5, 4]

// page geometry (pixels)
const W = 1344, H = 960
const colX = [[99, 303], [354, 557], [597, 801], [870, 1075], [1125, 1331]]
const rowY = [[84, 213], [256, 384], [427, 556], [599, 728]]
const stripH = 27

const totalCells = cellCounts.reduce((a, b) => a + b, 0)
const xPad = totalCells * 0.05
const gridCol = "#e8e8e8"

const traces = []
const layout = {
    width: W, height: H,
    margin: {l: 0, r: 0, t: 0, b: 0},
    paper_bgcolor: "white",
    plot_bgcolor: "white",
    font: {family: "Liberation Sans, Arial, sans-serif", color: "black"},
    title: {
        text: "Maxima (obj > -Inf)",
        font: {size: 32, color: "black"},
        x: 98 / W, xanchor: "left", xref: "paper",
        y: 1 - 27 / H, yanchor: "middle"
    },
    showlegend: true,
    shapes: [],
    annotations: []
}

panels.forEach((panel, p) => {
    const n = p + 1
    const col = p % 5, row = Math.floor(p / 5)
    const xa = "x" + n, ya = "y" + n
    let start = 0
    let ymin = 0, ymax = 0
    panel.forEach((vals, c) => {
        const k = vals.length
        const w = cellCounts[c] + 8
        const s0 = start - 4
        traces.push({
            type: "scatter", mode: "markers",
            x: vals.map((v, i) => s0 + (i + 0.5) * w / k),
            y: vals,
            xaxis: xa, yaxis: ya,
            name: cellTypes[c],
            showlegend: false,
            hoverinfo: "name+y",
            marker: {color: cellColors[c], size: 6.5, opacity: 0.8}
        })
        vals.forEach(v => { ymin = Math.min(ymin, v); ymax = Math.max(ymax, v) })
        start += cellCounts[c]
    })
    const span = ymax - ymin
    const dt = yDticks[p]

    layout["xaxis" + n] = {
        domain: [colX[col][0] / W, colX[col][1] / W],
        anchor: ya,
        range: [-xPad, totalCells + xPad],
        showticklabels: false, ticks: "",
        dtick: 100, tick0: 0,
        showgrid: true, gridcolor: gridCol, gridwidth: 1.8,
        zeroline: false,
        showline: true, mirror: true, linecolor: "#333333", linewidth: 1
    }
    layout["yaxis" + n] = {
        domain: [1 - rowY[row][1] / H, 1 - rowY[row][0] / H],
        anchor: xa,
        range: [ymin - 0.05 * span, ymax + 0.05 * span],
        dtick: dt, tick0: 0,
        tickformat: dt % 1 ? ".1f" : "",
        ticks: "outside", ticklen: 4, tickwidth: 1, tickcolor: "#333333",
        tickfont: {size: 21, color: "#4d4d4d"},
        showgrid: true, gridcolor: gridCol, gridwidth: 2,
        minor: {dtick: dt / 2, showgrid: true, gridcolor: gridCol, gridwidth: 1.1, ticks: ""},
        zeroline: false,
        showline: true, mirror: true, linecolor: "#333333", linewidth: 1
    }

    // dashed reference line at zero
    layout.shapes.push({
        type: "line", xref: xa + " domain", yref: ya,
        x0: 0, x1: 1, y0: 0, y1: 0,
        line: {color: "black", width: 1.4, dash: "7px,6px"}
    })
    // facet strip
    layout.shapes.push({
        type: "rect", xref: "paper", yref: "paper", layer: "below",
        x0: colX[col][0] / W, x1: colX[col][1] / W,
        y0: 1 - rowY[row][0] / H, y1: 1 - (rowY[row][0] - stripH) / H,
        fillcolor: "#dedede", line: {width: 0}
    })
    layout.annotations.push({
        text: facetLabels[p], showarrow: false,
        xref: "paper", yref: "paper",
        x: (colX[col][0] + colX[col][1]) / 2 / W,
        y: 1 - (rowY[row][0] - stripH / 2) / H,
        xanchor: "center", yanchor: "middle",
        font: {size: 18.5, color: "#1a1a1a"}
    })
})

// axis title and legend title
layout.annotations.push({
    text: "Loading", showarrow: false, textangle: -90,
    xref: "paper", yref: "paper", x: 25 / W, y: 1 - 405 / H,
    xanchor: "center", yanchor: "middle",
    font: {size: 26, color: "black"}
})
layout.annotations.push({
    text: "Cell type", showarrow: false,
    xref: "paper", yref: "paper", x: 191 / W, y: 1 - 852 / H,
    xanchor: "left", yanchor: "middle",
    font: {size: 26, color: "black"}
})

// legend: five columns, filled top to bottom
const legendCols = [[0, 1, 2], [3, 4, 5], [6, 7, 8], [9, 10, 11], [12]]
const legendMarkerX = [330, 568, 698, 873, 1118]
legendCols.forEach((members, j) => {
    const key = j === 0 ? "legend" : "legend" + (j + 1)
    layout[key] = {
        x: (legendMarkerX[j] - 36) / W, xanchor: "left",
        y: 1 - 772 / H, yanchor: "top",
        orientation: "v",
        font: {size: 21, color: "black"},
        bgcolor: "rgba(0,0,0,0)",
        itemwidth: 63,
        tracegroupgap: 29,
        itemclick: false, itemdoubleclick: false
    }
    members.forEach(c => {
        traces.push({
            type: "scatter", mode: "markers",
            x: [null], y: [null], xaxis: "x1", yaxis: "y1",
            name: cellTypes[c],
            legend: key, legendgroup: cellTypes[c],
            showlegend: true, hoverinfo: "skip",
            marker: {color: cellColors[c], size: 20}
        })
    })
})

Plotly.newPlot("plot", traces, layout, {displayModeBar: false, responsive: false})

</script>
</body>
</html>
